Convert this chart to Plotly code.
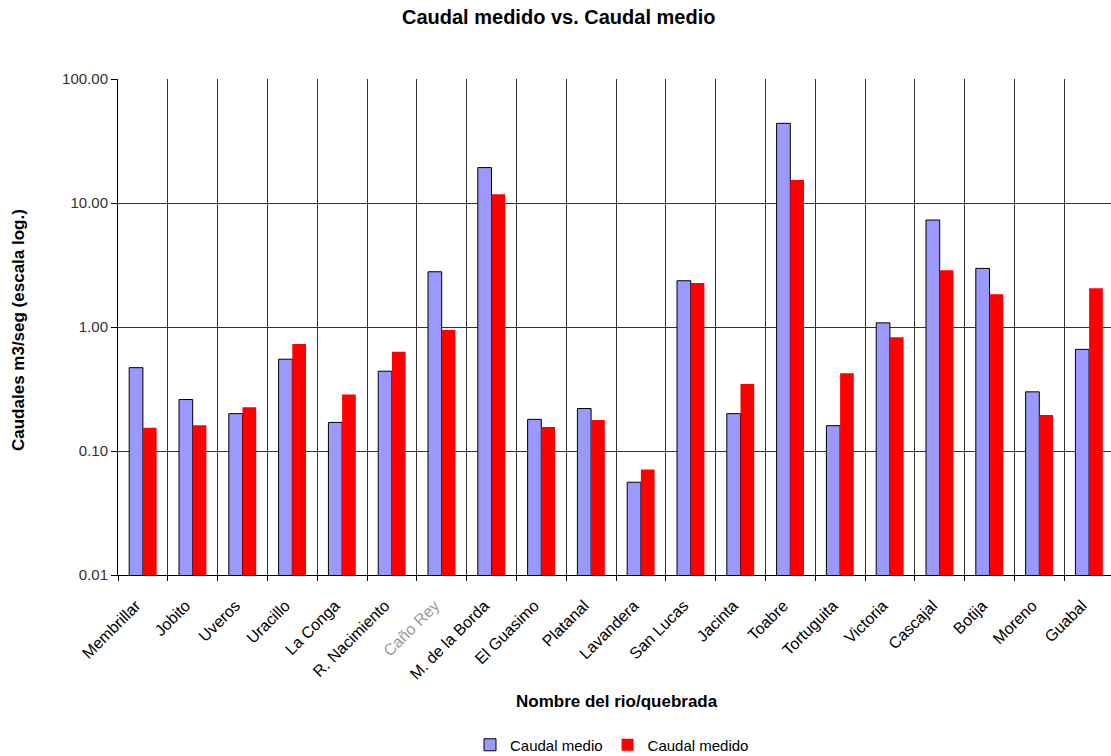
import plotly.graph_objects as go

# River / stream names and flows (m3/s)
rios = ["Membrillar", "Jobito", "Uveros", "Uracillo", "La Conga", "R. Nacimiento",
        "Caño Rey", "M. de la Borda", "El Guasimo", "Platanal", "Lavandera",
        "San Lucas", "Jacinta", "Toabre", "Tortuguita", "Victoria", "Cascajal",
        "Botija", "Moreno", "Guabal"]
caudal_medio = [0.47, 0.26, 0.20, 0.55, 0.17, 0.44, 2.79, 19.3, 0.18, 0.22, 0.056,
                2.36, 0.20, 43.9, 0.16, 1.08, 7.29, 2.97, 0.30, 0.66]
caudal_medido = [0.154, 0.161, 0.225, 0.73, 0.286, 0.632, 0.946, 11.75, 0.156, 0.178,
                 0.071, 2.26, 0.347, 15.3, 0.423, 0.826, 2.87, 1.84, 0.195, 2.05]

y_ticks = [0.01, 0.1, 1, 10, 100]
y_ticktext = ["0.01", "0.10", "1.00", "10.00", "100.00"]

x_pos = list(range(len(rios)))
x_ticktext = [("<span style='color:#9a9a9a'>%s</span>" % r) if r == "Caño Rey" else r
              for r in rios]

W, H = 1111, 756
ml, mt, mb = 118, 79, 181
cat_px = 49.8
plot_w = W - ml
plot_h = H - mt - mb

fig = go.Figure()
fig.add_trace(go.Bar(
    x=x_pos, y=caudal_medio, name="Caudal medio",
    marker=dict(color="#9999FF", line=dict(color="#000000", width=1)),
))
fig.add_trace(go.Bar(
    x=x_pos, y=caudal_medido, name="Caudal medido",
    marker=dict(color="#FF0000", line=dict(color="#FF0000", width=0)),
))

font_main = "Liberation Sans, Arial, sans-serif"

fig.update_layout(
    width=W, height=H,
    margin=dict(l=ml, r=0, t=mt, b=mb, pad=0, autoexpand=False),
    paper_bgcolor="white", plot_bgcolor="white",
    barmode="group", bargap=0.45, bargroupgap=0,
    font=dict(family=font_main, size=12, color="#000000"),
    showlegend=True,
    legend=dict(orientation="h", x=(612 - ml) / plot_w, xanchor="center",
                y=-(745 - (H - mb)) / plot_h, yanchor="middle",
                font=dict(size=15, color="#000000"), itemwidth=30,
                traceorder="normal", tracegroupgap=0),
    annotations=[
        dict(text="<b>Caudal medido vs. Caudal medio</b>", xref="paper", yref="paper",
             x=(558 - ml) / plot_w, y=1 + (mt - 17) / plot_h,
             xanchor="center", yanchor="middle", showarrow=False,
             font=dict(size=20, family=font_main)),
        dict(text="<b>Nombre del rio/quebrada</b>", xref="paper", yref="paper",
             x=(617 - ml) / plot_w, y=-(701 - (H - mb)) / plot_h,
             xanchor="center", yanchor="middle", showarrow=False,
             font=dict(size=17, family=font_main)),
        dict(text="<b>Caudales m3/seg (escala log.)</b>", xref="paper", yref="paper",
             x=-(ml - 18) / plot_w, y=(H - mb - 330) / plot_h,
             xanchor="center", yanchor="middle", showarrow=False, textangle=-90,
             font=dict(size=17, family=font_main)),
    ],
)

fig.update_xaxes(
    type="linear",
    range=[-0.5, -0.5 + plot_w / cat_px],
    tickmode="array", tickvals=x_pos, ticktext=x_ticktext,
    tickangle=-45, ticks="", showgrid=False, zeroline=False,
    tickfont=dict(size=16, color="#000000"),
    ticklabelstandoff=14, ticklabelshift=-7,
    showline=True, linecolor="#000000", linewidth=1,
    minor=dict(tick0=-0.5, dtick=1, showgrid=True, gridcolor="#333333", gridwidth=1.3,
               ticks="outside", ticklen=5, tickcolor="#000000", tickwidth=1),
)
fig.update_yaxes(
    type="log", range=[-2, 2],
    tickmode="array", tickvals=y_ticks, ticktext=y_ticktext,
    ticks="outside", ticklen=6, tickcolor="#000000",
    showgrid=True, gridcolor="#333333", gridwidth=1.3,
    showline=True, linecolor="#000000", linewidth=1,
    tickfont=dict(size=15, color="#333333"),
    zeroline=False,
)

fig.write_html("out.html")
